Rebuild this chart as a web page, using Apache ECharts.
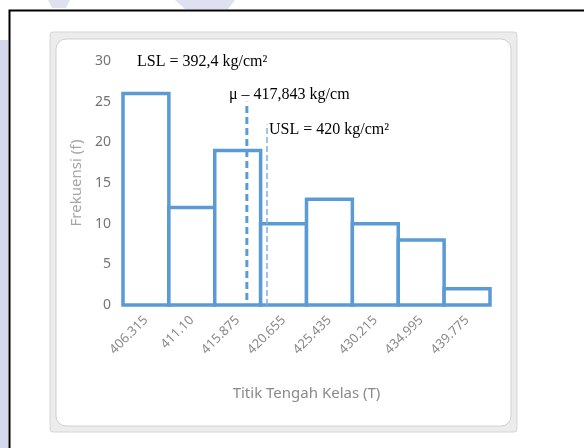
<!DOCTYPE html>
<html>
<head>
<meta charset="utf-8">
<script src="https://cdn.jsdelivr.net/npm/echarts@6/dist/echarts.min.js"></script>
<style>
  html, body { margin: 0; padding: 0; background: #fff; }
  #chart { width: 584px; height: 448px; }
</style>
</head>
<body>
<div id="chart"></div>
<script>
// ---- data ----
var categories = ['406.315', '411.10', '415.875', '420.655', '425.435', '430.215', '434.995', '439.775'];
var frequencies = [26, 12, 19, 10, 13, 10, 8, 2];
var yTicks = { min: 0, max: 30, interval: 5 };
// class range covered by the bars (kg/cm2), used for the hidden value axis
var classRange = [403.925, 442.165];
// vertical reference lines as drawn: [x value, y from, y to]
var muLine = [416.83, 0.6, 25];
var uslLine = [418.93, 0, 22.2];
var annotations = ['LSL = 392,4 kg/cm\u00B2', '\u03BC \u2013 417,843 kg/cm', 'USL = 420 kg/cm\u00B2'];
var yName = 'Frekuensi (f)';
var xName = 'Titik Tengah Kelas (T)';

var blue = '#5b9bd5';
var chart = echarts.init(document.getElementById('chart'), null, { renderer: 'canvas' });

var barData = frequencies.map(function (v, i) { return [i, v]; });

var option = {
  animation: false,
  backgroundColor: '#ffffff',
  grid: { left: 123, right: 94, top: 61, bottom: 143, containLabel: false },
  xAxis: [
    {
      type: 'category',
      data: categories,
      boundaryGap: true,
      axisLine: { show: false },
      axisTick: { show: false },
      splitLine: { show: false },
      axisLabel: {
        interval: 0, rotate: 45, margin: 13,
        color: '#8a8a8a', fontSize: 13, fontFamily: 'Noto Sans'
      },
      name: xName,
      nameLocation: 'middle',
      nameGap: 81,
      nameTextStyle: { color: '#8a8a8a', fontSize: 15, fontFamily: 'Noto Sans' }
    },
    {
      type: 'value',
      min: classRange[0], max: classRange[1],
      show: false
    }
  ],
  yAxis: {
    type: 'value',
    min: yTicks.min, max: yTicks.max, interval: yTicks.interval,
    axisLine: { show: false },
    axisTick: { show: false },
    splitLine: { show: false },
    axisLabel: { color: '#747474', fontSize: 14, margin: 12, fontFamily: 'Noto Sans' },
    name: yName,
    nameLocation: 'middle',
    nameGap: 34,
    nameRotate: 90,
    nameTextStyle: { color: '#a6a6a6', fontSize: 15, fontFamily: 'Noto Sans' }
  },
  graphic: [
    { type: 'rect', z: -5, shape: { x: 0, y: 40, width: 8, height: 408 }, style: { fill: '#d3d8ec' } },
    { type: 'polygon', z: -5, shape: { points: [[48, 0], [70, 0], [66, 8], [52, 8]] }, style: { fill: '#dde1f0' } },
    { type: 'polygon', z: -5, shape: { points: [[175, 0], [235, 0], [228, 9], [185, 9]] }, style: { fill: '#dde1f0' } },
    { type: 'rect', z: -4, shape: { x: 9.5, y: 10.5, width: 700, height: 700 }, style: { fill: '#fff', stroke: '#000', lineWidth: 2 } },
    { type: 'rect', z: -3, shape: { x: 50, y: 32, width: 467, height: 400, r: 3 }, style: { fill: '#ececec', stroke: '#d6d6d6', lineWidth: 1 } },
    { type: 'rect', z: -2, shape: { x: 56, y: 39, width: 455, height: 387, r: 10 }, style: { fill: '#ffffff', stroke: '#cfcfcf', lineWidth: 1 } },
    { type: 'text', z: 10, x: 137, y: 62, style: { text: annotations[0], fill: '#000', font: '16px "Liberation Serif"', verticalAlign: 'middle' } },
    { type: 'text', z: 10, x: 229, y: 95, style: { text: annotations[1], fill: '#000', font: '16px "Liberation Serif"', verticalAlign: 'middle' } },
    { type: 'text', z: 10, x: 269, y: 130, style: { text: annotations[2], fill: '#000', font: '16px "Liberation Serif"', verticalAlign: 'middle' } }
  ],
  series: [
    {
      type: 'custom',
      data: barData,
      silent: true,
      encode: { x: 0, y: 1 },
      renderItem: function (params, api) {
        var idx = api.value(0);
        var val = api.value(1);
        var base = api.coord([idx, 0]);
        var top = api.coord([idx, val]);
        var w = api.size([1, 0])[0];
        return {
          type: 'rect',
          shape: { x: base[0] - w / 2, y: top[1], width: w, height: base[1] - top[1] },
          style: { fill: '#ffffff', stroke: blue, lineWidth: 3.5 }
        };
      }
    },
    {
      type: 'line',
      xAxisIndex: 1,
      data: [[muLine[0], muLine[1]], [muLine[0], muLine[2]]],
      symbol: 'none',
      lineStyle: { color: blue, width: 3, type: [7, 4] },
      z: 5, silent: true
    },
    {
      type: 'line',
      xAxisIndex: 1,
      data: [[uslLine[0], uslLine[1]], [uslLine[0], uslLine[2]]],
      symbol: 'none',
      lineStyle: { color: '#7fb0e0', width: 1.5, type: [6, 3] },
      z: 5, silent: true
    }
  ]
};
chart.setOption(option);
</script>
</body>
</html>
